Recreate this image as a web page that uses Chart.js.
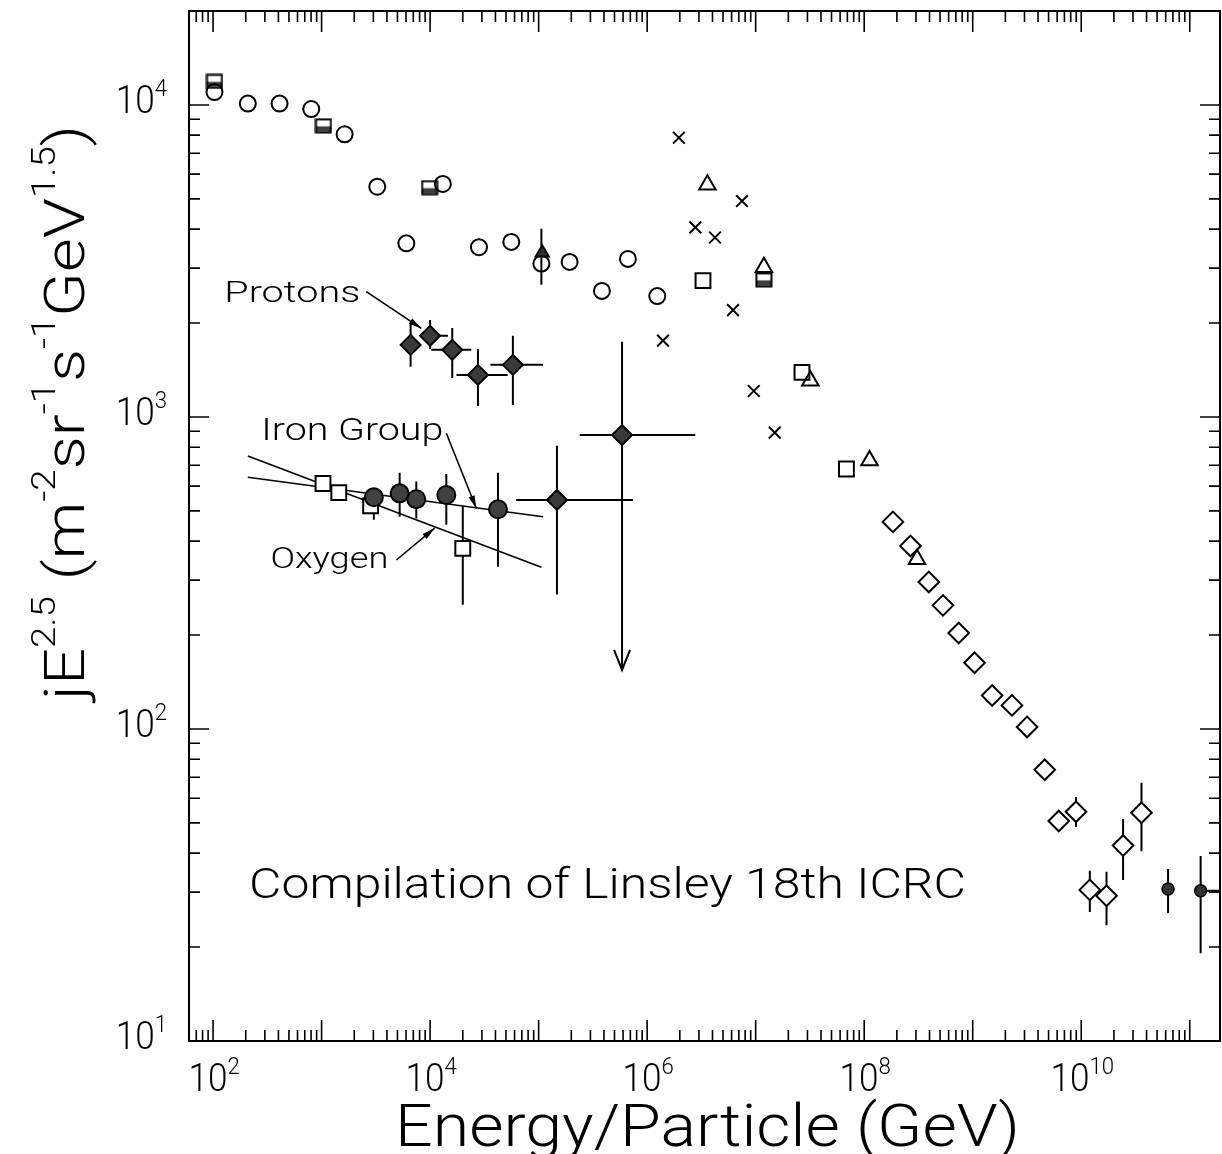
<!DOCTYPE html>
<html>
<head>
<meta charset="utf-8">
<script src="https://cdn.jsdelivr.net/npm/chart.js@4.4.1/dist/chart.umd.min.js"></script>
<style>
html,body{margin:0;padding:0;background:#fff;overflow:hidden;}
canvas{display:block;}
</style>
</head>
<body>
<canvas id="c" width="1222" height="1154"></canvas>
<script>
// ---------------- DATA (energy in GeV, flux jE^2.5) ----------------
// open circles (direct measurements, all particles)
const circE = [103, 209, 410, 803, 1630, 3260, 6040, 13100, 28200, 56000, 106000, 193000, 383000, 665000, 1240000];
const circV = [11000, 10100, 10100, 9700, 8050, 5470, 3600, 5580, 3500, 3640, 3100, 3140, 2535, 3210, 2440];
const circYLo = [null, null, null, null, null, null, null, null, null, null, 2655, null, null, null, null];
const circYHi = [null, null, null, null, null, null, null, null, null, null, 4010, null, null, null, null];

// half-shaded squares
const hsqE = [103, 1040, 9890, 11900000];
const hsqV = [11900, 8570, 5430, 2750];

// open squares (air showers)
const sqE = [3270000, 26700000, 68600000];
const sqV = [2735, 1390, 681];

// open triangles
const triE = [3590000, 11900000, 31900000, 112000000, 307000000];
const triV = [5550, 3020, 1306, 725, 350];

// filled triangle
const ftriE = [108000];
const ftriV = [3360];

// crosses
const crsE = [1400000, 1960000, 2780000, 4220000, 6180000, 7480000, 9600000, 15000000];
const crsV = [1757, 7850, 4050, 3760, 2200, 4920, 1211, 891];

// open diamonds (giant air showers)
const dmE = [1.84e8, 2.67e8, 3.94e8, 5.32e8, 7.43e8, 1.04e9, 1.51e9, 2.30e9, 3.17e9, 4.61e9, 6.21e9, 8.95e9, 1.20e10, 1.71e10, 2.43e10, 3.59e10];
const dmV = [461, 386, 296, 249, 203, 163, 128, 119, 101.5, 74, 50.7, 54.3, 30.5, 29.2, 42.3, 53.9];
const dmYLo = [null, null, null, null, null, null, null, null, null, null, null, 48.5, 25.9, 23.5, 32.8, 40.6];
const dmYHi = [null, null, null, null, null, null, null, null, null, null, null, 60.5, 35.1, 34.9, 51.5, 67.2];

// small filled circles (highest energies)
const hiE = [6.31e10, 1.26e11];
const hiV = [30.7, 30.3];
const hiYLo = [25.7, 19.1];
const hiYHi = [35.6, 39.2];
const hiXLo = [null, null];
const hiXHi = [null, 2.5e11];

// Protons (filled diamonds)
const protE = [6610, 10000, 16000, 27600, 57900, 147500, 587000];
const protV = [1702, 1820, 1641, 1364, 1469, 542, 875];
const protYLo = [1449, 1652, 1334, 1084, 1092, 270, 154.6];
const protYHi = [1996, 2046, 1928, 1652, 1820, 809, 1742];
const protXLo = [null, 9220, 10260, 17500, 35900, 62200, 239000];
const protXHi = [null, 14600, 24000, 51800, 110000, 740000, 2780000];
const protUpperLimit = [false, false, false, false, false, false, true];

// Iron group (filled circles)
const ironE = [3030, 5240, 7460, 14100, 42200];
const ironV = [553, 569, 545, 562, 506];
const ironYLo = [468, 479, 473, 451, 331];
const ironYHi = [576, 663, 621, 656, 663];

// Oxygen (open squares)
const oxyE = [1030, 1440, 2830, 20000];
const oxyV = [612, 572, 519, 379];
const oxyYLo = [null, null, null, 250];
const oxyYHi = [null, null, null, 516];

// fitted spectra lines
const ironFitE = [209, 110000];
const ironFitV = [641, 479];
const oxyFitE = [209, 106000];
const oxyFitV = [750, 330];

// annotation arrows (tail -> head, data coordinates)
const annLabels = ['Protons', 'Iron Group', 'Oxygen'];
const annTailE = [2580, 14100, 4890];
const annTailV = [2521, 887, 348];
const annHeadE = [8300, 26700, 11000];
const annHeadV = [1923, 509, 440];

// axis ticks
const xTickExps = [2, 4, 6, 8, 10];
const yTickExps = [1, 2, 3, 4];
const xMin = 60, xMax = 1.9e11, yMin = 10, yMax = 2e4;

const xTitle = 'Energy/Particle (GeV)';
const yTitleParts = [
  {t: 'jE'}, {t: '2.5', s: true}, {t: ' (m'}, {t: '-2', s: true}, {t: 'sr'}, {t: '-1', s: true},
  {t: 's'}, {t: '-1', s: true}, {t: 'GeV'}, {t: '1.5', s: true}, {t: ')'}
];
const noteText = 'Compilation of Linsley 18th ICRC';

// ---------------- helpers ----------------
const FONT = 'Roboto, "DejaVu Sans", sans-serif';
const W = '300';
const pts = (E, V) => E.map((e, i) => ({x: e, y: V[i]}));

function halfSquare() {
  const c = document.createElement('canvas');
  c.width = 18; c.height = 16;
  const g = c.getContext('2d');
  g.fillStyle = '#fff'; g.fillRect(1.5, 1.5, 15, 13);
  g.fillStyle = '#3c3c3c'; g.fillRect(2, 8.5, 14, 5);
  g.strokeStyle = '#000'; g.lineWidth = 2;
  g.strokeRect(1.5, 1.5, 15, 13);
  return c;
}

function richWidth(ctx, parts, base, sup) {
  let w = 0;
  for (const p of parts) { ctx.font = `${W} ${p.s ? sup : base}px ${FONT}`; w += ctx.measureText(p.t).width; }
  return w;
}
function drawRich(ctx, parts, x, y, base, sup, rise, opt) {
  const w = richWidth(ctx, parts, base, sup);
  const sx = opt.width ? opt.width / w : (opt.sx || 1);
  const tw = w * sx;
  const x0 = opt.align === 'center' ? x - tw / 2 : opt.align === 'right' ? x - tw : x;
  ctx.save();
  ctx.translate(x0, y);
  ctx.scale(sx, 1);
  ctx.textAlign = 'left'; ctx.textBaseline = 'alphabetic'; ctx.fillStyle = '#000';
  let cx = 0;
  for (const p of parts) {
    ctx.font = `${W} ${p.s ? sup : base}px ${FONT}`;
    ctx.fillText(p.t, cx, p.s ? -rise : 0);
    cx += ctx.measureText(p.t).width;
  }
  ctx.restore();
}

const errorSpecs = [
  {E: circE, V: circV, yLo: circYLo, yHi: circYHi},
  {E: dmE, V: dmV, yLo: dmYLo, yHi: dmYHi},
  {E: hiE, V: hiV, yLo: hiYLo, yHi: hiYHi, xLo: hiXLo, xHi: hiXHi},
  {E: protE, V: protV, yLo: protYLo, yHi: protYHi, xLo: protXLo, xHi: protXHi, ul: protUpperLimit},
  {E: ironE, V: ironV, yLo: ironYLo, yHi: ironYHi},
  {E: oxyE, V: oxyV, yLo: oxyYLo, yHi: oxyYHi}
];

const errorPlugin = {
  id: 'errbars',
  beforeDatasetsDraw(chart) {
    const ctx = chart.ctx, xs = chart.scales.x, ys = chart.scales.y, a = chart.chartArea;
    ctx.save();
    ctx.beginPath(); ctx.rect(a.left, a.top, a.right - a.left, a.bottom - a.top); ctx.clip();
    ctx.strokeStyle = '#000'; ctx.lineWidth = 2;
    for (const s of errorSpecs) {
      s.E.forEach((e, i) => {
        const px = xs.getPixelForValue(e), py = ys.getPixelForValue(s.V[i]);
        ctx.beginPath();
        if (s.yLo && s.yLo[i] != null) { ctx.moveTo(px, py); ctx.lineTo(px, ys.getPixelForValue(s.yLo[i])); }
        if (s.yHi && s.yHi[i] != null) { ctx.moveTo(px, py); ctx.lineTo(px, ys.getPixelForValue(s.yHi[i])); }
        if (s.xLo && s.xLo[i] != null) { ctx.moveTo(px, py); ctx.lineTo(xs.getPixelForValue(s.xLo[i]), py); }
        if (s.xHi && s.xHi[i] != null) { ctx.moveTo(px, py); ctx.lineTo(xs.getPixelForValue(s.xHi[i]), py); }
        ctx.stroke();
        if (s.ul && s.ul[i]) {
          const ty = ys.getPixelForValue(s.yLo[i]);
          ctx.beginPath();
          ctx.moveTo(px - 8, ty - 20); ctx.lineTo(px, ty); ctx.lineTo(px + 8, ty - 20);
          ctx.stroke();
        }
      });
    }
    ctx.restore();
  }
};

const framePlugin = {
  id: 'frame',
  afterDraw(chart) {
    const ctx = chart.ctx, xs = chart.scales.x, ys = chart.scales.y, a = chart.chartArea;
    ctx.save();
    ctx.strokeStyle = '#000'; ctx.fillStyle = '#000';
    ctx.lineWidth = 2;
    ctx.strokeRect(a.left, a.top, a.right - a.left, a.bottom - a.top);
    ctx.lineWidth = 1.6;
    ctx.beginPath();
    for (let n = 0; n <= 12; n++) {
      for (let m = 1; m <= 9; m++) {
        const v = m * Math.pow(10, n);
        if (v >= xs.min && v <= xs.max) {
          const p = xs.getPixelForValue(v), L = m === 1 ? 21 : 11;
          ctx.moveTo(p, a.bottom); ctx.lineTo(p, a.bottom - L);
          ctx.moveTo(p, a.top); ctx.lineTo(p, a.top + L);
        }
        if (v >= ys.min && v <= ys.max) {
          const p = ys.getPixelForValue(v), L = m === 1 ? 20 : 11;
          ctx.moveTo(a.left, p); ctx.lineTo(a.left + L, p);
          ctx.moveTo(a.right, p); ctx.lineTo(a.right - L, p);
        }
      }
    }
    ctx.stroke();

    // annotation arrows
    ctx.lineWidth = 1.6;
    annLabels.forEach((lab, i) => {
      const x1 = xs.getPixelForValue(annTailE[i]), y1 = ys.getPixelForValue(annTailV[i]);
      const x2 = xs.getPixelForValue(annHeadE[i]), y2 = ys.getPixelForValue(annHeadV[i]);
      ctx.beginPath(); ctx.moveTo(x1, y1); ctx.lineTo(x2, y2); ctx.stroke();
      const ang = Math.atan2(y2 - y1, x2 - x1), L = 13, hw = 3.2;
      ctx.beginPath();
      ctx.moveTo(x2, y2);
      ctx.lineTo(x2 - L * Math.cos(ang) + hw * Math.sin(ang), y2 - L * Math.sin(ang) - hw * Math.cos(ang));
      ctx.lineTo(x2 - L * Math.cos(ang) - hw * Math.sin(ang), y2 - L * Math.sin(ang) + hw * Math.cos(ang));
      ctx.closePath(); ctx.fill();
    });
    const labOpts = [
      {dx: -6, dy: 10, w: 136, size: 30},
      {dx: -3, dy: 7, w: 182, size: 31},
      {dx: -8, dy: 8, w: 118, size: 30}
    ];
    annLabels.forEach((lab, i) => {
      const x1 = xs.getPixelForValue(annTailE[i]), y1 = ys.getPixelForValue(annTailV[i]);
      const o = labOpts[i];
      drawRich(ctx, [{t: lab}], x1 + o.dx, y1 + o.dy, o.size, 18, 0, {align: 'right', width: o.w});
    });

    // tick labels
    ctx.font = `${W} 38px ${FONT}`;
    const sx = 39 / ctx.measureText('10').width;
    xTickExps.forEach(n => {
      const p = xs.getPixelForValue(Math.pow(10, n));
      drawRich(ctx, [{t: '10'}, {t: String(n), s: true}], p + 1, a.bottom + 50, 38, 24, 17, {align: 'center', sx});
    });
    yTickExps.forEach(n => {
      const p = ys.getPixelForValue(Math.pow(10, n));
      drawRich(ctx, [{t: '10'}, {t: String(n), s: true}], a.left - 22, p + 8, 38, 24, 17, {align: 'right', sx});
    });

    // axis titles
    drawRich(ctx, [{t: xTitle}], 395, 1146, 59, 30, 0, {align: 'left', width: 625});
    ctx.save();
    ctx.translate(84, 700);
    ctx.rotate(-Math.PI / 2);
    drawRich(ctx, yTitleParts, 0, 0, 56, 33, 29, {align: 'left', width: 575});
    ctx.restore();

    // note
    drawRich(ctx, [{t: noteText}], 249, 898, 42, 20, 0, {align: 'left', width: 717});
    ctx.restore();
  }
};

const BLK = '#000';
const chart = new Chart(document.getElementById('c'), {
  type: 'scatter',
  data: {
    datasets: [
      {label: 'Protons', data: pts(protE, protV), pointStyle: 'rectRot', pointRadius: 10, backgroundColor: '#3a3a3a', borderColor: BLK, borderWidth: 2},
      {label: 'Iron group', data: pts(ironE, ironV), pointStyle: 'circle', pointRadius: 9, backgroundColor: '#404040', borderColor: BLK, borderWidth: 2},
      {label: 'Oxygen', data: pts(oxyE, oxyV), pointStyle: 'rect', pointRadius: 10.5, backgroundColor: '#fff', borderColor: BLK, borderWidth: 2},
      {label: 'Filled triangle', data: pts(ftriE, ftriV), pointStyle: 'triangle', pointRadius: 7.5, backgroundColor: '#333', borderColor: BLK, borderWidth: 2},
      {label: 'Open circles', data: pts(circE, circV), pointStyle: 'circle', pointRadius: 8, backgroundColor: 'rgba(255,255,255,0)', borderColor: BLK, borderWidth: 2},
      {label: 'Half squares', data: pts(hsqE, hsqV), pointStyle: halfSquare(), pointRadius: 8},
      {label: 'Open squares', data: pts(sqE, sqV), pointStyle: 'rect', pointRadius: 10.5, backgroundColor: 'rgba(255,255,255,0)', borderColor: BLK, borderWidth: 2},
      {label: 'Open triangles', data: pts(triE, triV), pointStyle: 'triangle', pointRadius: 9.5, backgroundColor: 'rgba(255,255,255,0)', borderColor: BLK, borderWidth: 2},
      {label: 'Crosses', data: pts(crsE, crsV), pointStyle: 'crossRot', pointRadius: 8.3, borderColor: BLK, borderWidth: 2},
      {label: 'Open diamonds', data: pts(dmE, dmV), pointStyle: 'rectRot', pointRadius: 10.3, backgroundColor: '#fff', borderColor: BLK, borderWidth: 2},
      {label: 'High-energy', data: pts(hiE, hiV), pointStyle: 'circle', pointRadius: 6, backgroundColor: '#333', borderColor: BLK, borderWidth: 1.5},
      {label: 'Iron fit', data: pts(ironFitE, ironFitV), showLine: true, pointRadius: 0, borderColor: BLK, borderWidth: 1.5, fill: false},
      {label: 'Oxygen fit', data: pts(oxyFitE, oxyFitV), showLine: true, pointRadius: 0, borderColor: BLK, borderWidth: 1.5, fill: false}
    ]
  },
  options: {
    responsive: false,
    animation: false,
    devicePixelRatio: 1,
    layout: {autoPadding: false, padding: {left: 189, right: 2, top: 11, bottom: 113}},
    plugins: {legend: {display: false}, tooltip: {enabled: false}},
    scales: {
      x: {type: 'logarithmic', min: xMin, max: xMax, display: false},
      y: {type: 'logarithmic', min: yMin, max: yMax, display: false}
    }
  },
  plugins: [errorPlugin, framePlugin]
});
</script>
</body>
</html>
